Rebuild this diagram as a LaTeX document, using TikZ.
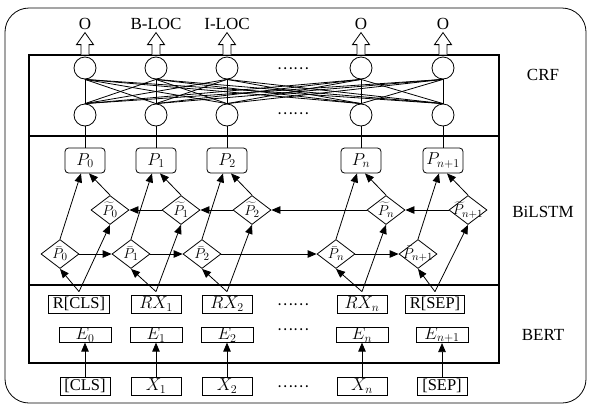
\documentclass[tikz,border=0pt]{standalone}
\usepackage{fontspec}
\setmainfont{Liberation Serif}
\newfontfamily\cjk{Noto Sans CJK SC}
\usetikzlibrary{shapes.geometric,arrows.meta}
\begin{document}
\begin{tikzpicture}[x=1pt,y=-1pt,line width=0.8pt,
  txt/.style={font=\fontsize{17}{19}\selectfont,inner sep=0},
  dots/.style={font=\cjk\fontsize{15}{16}\selectfont,inner sep=0},
  crfnode/.style={circle,draw,minimum size=22pt,inner sep=0},
  pbox/.style={draw,rounded corners=3.5pt,minimum width=40pt,minimum height=25pt,inner sep=0,font=\fontsize{17}{19}\selectfont},
  lstm/.style={diamond,draw,aspect=1.3,minimum width=38pt,minimum height=29pt,inner sep=0,font=\fontsize{15}{17}\selectfont},
  tbox/.style={draw,minimum width=50pt,minimum height=18pt,inner xsep=4pt,inner ysep=0,font=\fontsize{16.5}{18}\selectfont},
  ebox/.style={draw,minimum width=52pt,minimum height=14pt,inner sep=0,font=\fontsize{16.5}{18}\selectfont},
  arr/.style={-{Triangle[length=9pt,width=7.5pt]}},
  hollow/.pic={\draw[fill=white] (-4,0) -- (-4,-10) -- (-8.5,-10) -- (0,-22) -- (8.5,-10) -- (4,-10) -- (4,0);}
]
\useasboundingbox (0,0) rectangle (589,405);

% frames
\draw[rounded corners=24pt] (5,8) rectangle (586,403);
\draw[line width=1.1pt] (29,55) rectangle (499,363);
\draw[line width=1.1pt] (29,136) -- (499,136);
\draw[line width=1.1pt] (29,285) -- (499,285);

% layer names
\node[txt] (lcrf) at (543,75) {CRF};
\node[txt] (llstm) at (543,212) {BiLSTM};
\node[txt] (lbert) at (543,335) {BERT};

% CRF layer and BiLSTM outputs
\node[pbox] (p1) at (85,160.5)  {$P_0$};
\node[pbox] (p2) at (156,160.5) {$P_1$};
\node[pbox] (p3) at (227,160.5) {$P_2$};
\node[pbox] (p4) at (361,160.5) {$P_n$};
\node[pbox] (p5) at (443,160.5) {$P_{n+1}$};
\foreach \i/\x in {1/85,2/156,3/227,4/361,5/443}{
  \node[crfnode] (t\i) at (\x,68) {};
  \node[crfnode] (b\i) at (\x,115) {};
  \pic at ([yshift=2pt]t\i.north) {hollow};
}
\foreach \i in {1,...,5}{
  \foreach \j in {1,...,5}{
    \draw (t\i.south) -- (b\j.north);
  }
  \draw (b\i.south) -- (p\i.north);
}
\node[dots] (d1) at (293,69) {……};
\node[dots] (d2) at (293,114) {……};

% output tags
\node[txt,anchor=base] (o1) at (85,29) {O};
\node[txt,anchor=base] (o2) at (156,29) {B-LOC};
\node[txt,anchor=base] (o3) at (227,29) {I-LOC};
\node[txt,anchor=base] (o4) at (361,29) {O};
\node[txt,anchor=base] (o5) at (443,29) {O};

% forward and backward cells
\node[lstm] (f1) at (60,254)  {\makebox[0pt]{$\bar{P}_0$}};
\node[lstm] (f2) at (131,254) {\makebox[0pt]{$\bar{P}_1$}};
\node[lstm] (f3) at (202,254) {\makebox[0pt]{$\bar{P}_2$}};
\node[lstm] (f4) at (336,254) {\makebox[0pt]{$\bar{P}_n$}};
\node[lstm] (f5) at (418,254) {\makebox[0pt]{$\bar{P}_{n+1}$}};
\node[lstm] (k1) at (110,210) {\makebox[0pt]{$\widetilde{P}_0$}};
\node[lstm] (k2) at (181,210) {\makebox[0pt]{$\widetilde{P}_1$}};
\node[lstm] (k3) at (252,210) {\makebox[0pt]{$\widetilde{P}_2$}};
\node[lstm] (k4) at (386,210) {\makebox[0pt]{$\widetilde{P}_n$}};
\node[lstm] (k5) at (468,210) {\makebox[0pt]{$\widetilde{P}_{n+1}$}};

\foreach \a/\b in {1/2,2/3,3/4,4/5}{
  \draw[arr] (f\a.east) -- (f\b.west);
  \draw[arr] (k\b.west) -- (k\a.east);
}
\foreach \i in {1,...,5}{
  \draw[arr] (f\i.north) -- ([xshift=-4pt]p\i.south);
  \draw[arr] (k\i.north) -- ([xshift=4pt]p\i.south);
}

% BERT layer
\node[tbox] (r1) at (79,304)  {R[CLS]};
\node[tbox] (r2) at (156,304) {$RX_1$};
\node[tbox] (r3) at (227,304) {$RX_2$};
\node[tbox] (r4) at (362,304) {$RX_n$};
\node[tbox] (r5) at (435,304) {R[SEP]};
\node[ebox] (e1) at (85,335)  {$E_0$};
\node[ebox] (e2) at (156,335) {$E_1$};
\node[ebox] (e3) at (227,335) {$E_2$};
\node[ebox] (e4) at (362,335) {$E_n$};
\node[ebox] (e5) at (442,335) {$E_{n+1}$};
\node[tbox] (x1) at (85,386)  {[CLS]};
\node[tbox] (x2) at (156,386) {$X_1$};
\node[tbox] (x3) at (227,386) {$X_2$};
\node[tbox] (x4) at (362,386) {$X_n$};
\node[tbox] (x5) at (442,386) {[SEP]};
\node[dots] (d3) at (293,305) {……};
\node[dots] (d4) at (293,330) {……};
\node[dots] (d5) at (293,387) {……};

\foreach \i in {1,...,5}{
  \coordinate (v\i) at ([yshift=3pt]r\i.north);
  \draw[arr] (v\i) -- (f\i.south);
  \draw[arr] (v\i) -- (k\i.south);
  \draw[arr] (x\i.north) -- (e\i.south);
}
\end{tikzpicture}
\end{document}
